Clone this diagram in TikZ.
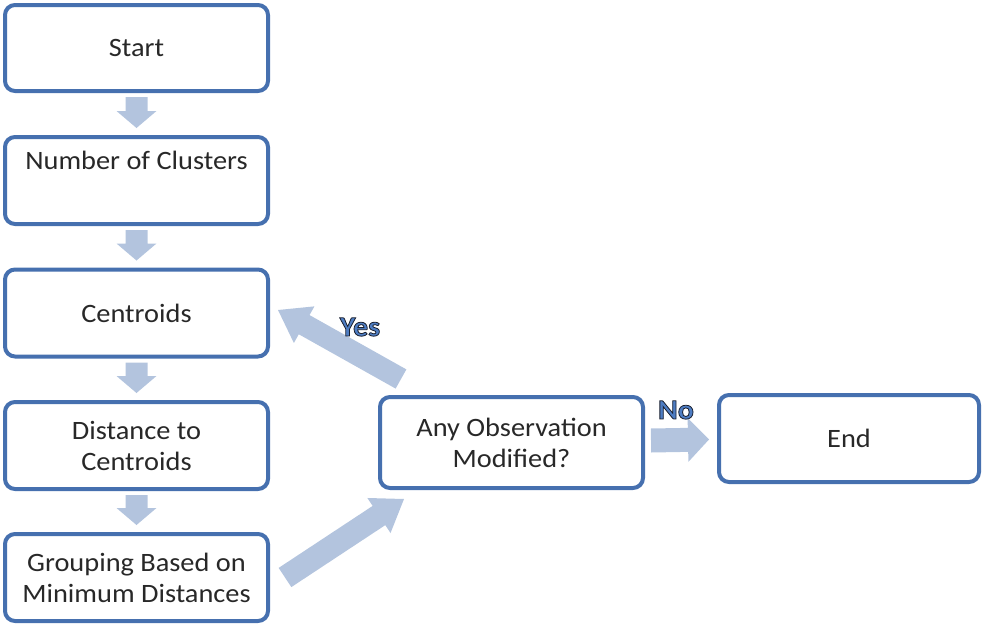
\documentclass[tikz,border=0pt]{standalone}
\usepackage{fontspec}
\setmainfont{Carlito}[FakeStretch=1.07]
\usetikzlibrary{calc}
\definecolor{boxblue}{RGB}{70,112,175}
\definecolor{arrowfill}{RGB}{179,196,222}
\definecolor{txtgray}{RGB}{40,40,40}
\definecolor{lblblue}{RGB}{78,125,195}
\tikzset{
  flowbox/.style={draw=boxblue, line width=4pt, rounded corners=10pt, fill=white,
    align=center, text=txtgray, font=\fontsize{26.5}{31}\selectfont,
    minimum width=263pt, minimum height=87pt, inner sep=0pt},
  blockarrow/.style={fill=arrowfill, draw=none},
  lbl/.style={font=\fontsize{28}{30}\selectfont\bfseries, text=lblblue}
}
\newcommand{\outlined}[1]{\special{pdf:literal direct 2 Tr 0.8 w 0.1 0.12 0.18 RG}#1\special{pdf:literal direct 0 Tr}}
% #1 tail, #2 tip, #3 half shaft, #4 half head, #5 head length
\newcommand{\fatarrow}[5]{%
  \coordinate (fa-h) at ($(#2)!#5!(#1)$);
  \fill[blockarrow] ($(#1)!#3!90:(#2)$) -- ($(fa-h)!#3!-90:(#1)$) -- ($(fa-h)!#4!-90:(#1)$)
    -- (#2) -- ($(fa-h)!#4!90:(#1)$) -- ($(fa-h)!#3!90:(#1)$) -- ($(#1)!#3!-90:(#2)$) -- cycle;}
\begin{document}
\begin{tikzpicture}[x=1pt,y=-1pt]
\useasboundingbox (0,0) rectangle (983,624);
\node[flowbox, minimum height=86pt] (start) at (136.5,48) {Start};
\node[flowbox] (clusters) at (136.5,180.5) {Number of Clusters\\ \strut};
\node[flowbox] (centroids) at (136.5,313) {Centroids};
\node[flowbox] (distance) at (136.5,445.5) {Distance to\\Centroids};
\node[flowbox] (grouping) at (136.5,577.5) {Grouping Based on\\Minimum Distances};
\node[flowbox, minimum height=91pt] (anyobs) at (511.5,442.5) {Any Observation\\Modified?};
\node[flowbox, minimum width=260pt] (end) at (849,438.5) {End};
% down arrows
\foreach \a/\b [count=\i] in {start/clusters, clusters/centroids, centroids/distance, distance/grouping}{
  \coordinate (t\i) at ($(\a.south)+(0,4)$);
  \coordinate (p\i) at ($(\b.north)+(0,-7)$);
  \fatarrow{t\i}{p\i}{11pt}{20pt}{17pt}
}
% grouping -> any observation
\coordinate (gt) at ($(grouping.east)+(15,0)$);
\coordinate (gp) at ($(anyobs.south west)+(26,9)$);
\fatarrow{gt}{gp}{11.5pt}{21pt}{30pt}
% any observation -> centroids (Yes)
\coordinate (yt) at ($(anyobs.north west)+(23,-16)$);
\coordinate (yp) at ($(centroids.east)+(8,-3)$);
\fatarrow{yt}{yp}{11pt}{21pt}{30pt}
% any observation -> end (No)
\coordinate (nt) at ($(anyobs.east)+(6,-2)$);
\coordinate (np) at ($(end.west)+(-8,1)$);
\fatarrow{nt}{np}{12pt}{22pt}{21pt}
% labels
\node[lbl] (yes) at (360,327) {\outlined{Yes}};
\node[lbl] (no) at (676,410) {\outlined{No}};
\end{tikzpicture}
\end{document}
